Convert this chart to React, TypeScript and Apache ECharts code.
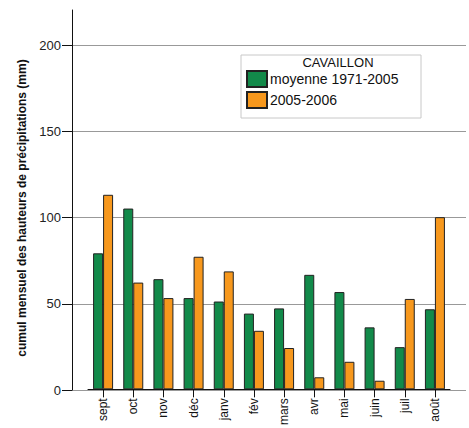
import React, { useEffect, useRef } from "react";
import * as echarts from "echarts";

const months = ["sept", "oct", "nov", "déc", "janv", "fév", "mars", "avr", "mai", "juin", "juil", "août"];
const moyenne = [79, 105, 64, 53, 51, 44, 47, 66.5, 56.5, 36, 24.5, 46.5];
const annee = [113, 62, 53, 77, 68.5, 34, 24, 7, 16, 5, 52.5, 100];
const yTicks = [0, 50, 100, 150, 200];
const seriesNames = ["moyenne 1971-2005", "2005-2006"];
const legendTitle = "CAVAILLON";
const yTitle = "cumul mensuel des hauteurs de précipitations (mm)";

const FONT = "'Liberation Sans', Arial, sans-serif";
const GREEN = "#128a4a";
const ORANGE = "#f7981d";

export default function App() {
  const ref = useRef<HTMLDivElement>(null);
  useEffect(() => {
    if (!ref.current) return;
    const chart = echarts.init(ref.current, undefined, { renderer: "svg" });
    const yMax = yTicks[yTicks.length - 1];
    const yInt = yTicks[1] - yTicks[0];
    chart.setOption({
      animation: false,
      backgroundColor: "#fff",
      textStyle: { fontFamily: FONT },
      grid: [
        { left: 72, top: 10, width: 394, bottom: 38 },
        { left: 72, top: 45, width: 394, bottom: 38 },
        { left: 88, top: 45, width: 362, bottom: 38 },
      ],
      xAxis: [
        { type: "value", gridIndex: 0, show: false },
        { type: "value", gridIndex: 1, show: false },
        {
          type: "category",
          gridIndex: 2,
          data: months,
          axisLine: { show: true, lineStyle: { color: "#111", width: 1 } },
          axisTick: { show: true, alignWithLabel: true, length: 8, lineStyle: { color: "#111" } },
          axisLabel: { rotate: 90, fontSize: 12, color: "#111", margin: 9, fontFamily: FONT },
        },
      ],
      yAxis: [
        {
          type: "value",
          gridIndex: 0,
          min: 0,
          max: 220,
          axisLine: { show: true, lineStyle: { color: "#111", width: 1 } },
          axisTick: { show: false },
          axisLabel: { show: false },
          splitLine: { show: false },
        },
        {
          type: "value",
          gridIndex: 1,
          min: 0,
          max: yMax,
          interval: yInt,
          axisLine: { show: false },
          axisTick: { show: true, length: 10, lineStyle: { color: "#111" } },
          axisLabel: { fontSize: 13, color: "#222", margin: 11, fontFamily: FONT },
          splitLine: { show: true, lineStyle: { color: "#999", width: 1 } },
        },
        { type: "value", gridIndex: 2, min: 0, max: yMax, show: false },
      ],
      legend: {
        orient: "vertical",
        left: 246,
        top: 70,
        itemWidth: 20,
        itemHeight: 16,
        itemGap: 3,
        padding: 0,
        icon: "rect",
        textStyle: { fontSize: 14, color: "#111", fontFamily: FONT, padding: [0, 0, 0, -2] },
        data: seriesNames,
      },
      graphic: [
        {
          type: "rect",
          z: -1,
          shape: { x: 241, y: 55, width: 180, height: 63 },
          style: { fill: "#fff", stroke: "#c8c8c8", lineWidth: 1 },
        },
        {
          type: "text",
          x: 338,
          y: 62,
          style: {
            text: legendTitle,
            fontSize: 13,
            fontFamily: FONT,
            fill: "#111",
            align: "center",
            verticalAlign: "middle",
          },
        },
        {
          type: "text",
          x: 22,
          y: 208,
          rotation: Math.PI / 2,
          style: {
            text: yTitle,
            fontSize: 12,
            fontWeight: "bold",
            fontFamily: FONT,
            fill: "#111",
            align: "center",
            verticalAlign: "middle",
          },
        },
      ],
      series: [
        {
          name: seriesNames[0],
          type: "bar",
          xAxisIndex: 2,
          yAxisIndex: 2,
          data: moyenne,
          barWidth: 10,
          barGap: "0%",
          itemStyle: { color: GREEN, borderColor: "#222", borderWidth: 1 },
        },
        {
          name: seriesNames[1],
          type: "bar",
          xAxisIndex: 2,
          yAxisIndex: 2,
          data: annee,
          barWidth: 10,
          barGap: "0%",
          itemStyle: { color: ORANGE, borderColor: "#222", borderWidth: 1 },
        },
      ],
    });
    return () => chart.dispose();
  }, []);
  return <div ref={ref} style={{ width: 469, height: 428, position: "absolute", left: 0, top: 0 }} />;
}
